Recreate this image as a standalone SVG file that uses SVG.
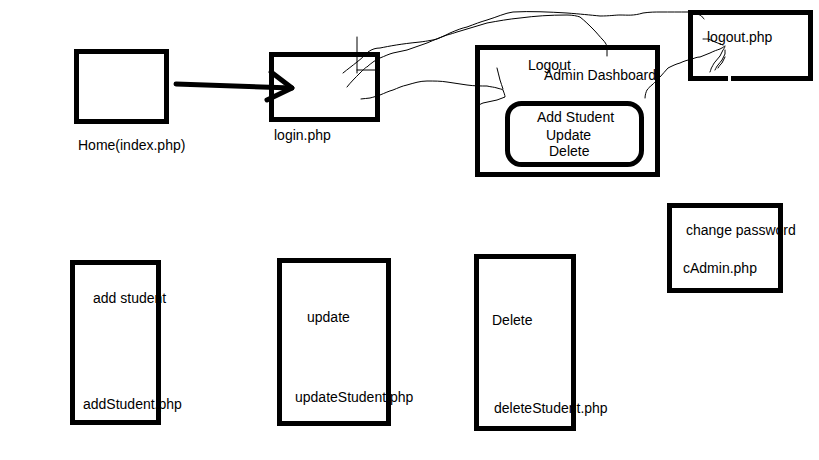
<svg xmlns="http://www.w3.org/2000/svg" width="819" height="460" viewBox="0 0 819 460">
<style>
.box{fill:none;stroke:#000;stroke-width:5}
.t{font-family:"Liberation Sans",Arial,sans-serif;font-size:14px;fill:#000}
.thin{fill:none;stroke:#000;stroke-width:1;stroke-linejoin:round;stroke-linecap:round}
.thick{fill:none;stroke:#000;stroke-width:5;stroke-linecap:round;stroke-linejoin:round}
</style>
<rect width="819" height="460" fill="#fff"/>
<g id="connectors">
<g id="home-to-login">
<path class="thick" d="M176,84 L292,88"/>
<path class="thick" d="M271,72 L292,88 L267,100"/>
</g>
<g id="login-to-logout">
<path class="thin" d="M343,73 C348,69 352,66 357,62 C361,59 365,55 368,52 C372,49 376,48 380,48 C390,46 400,44 420,42 C428,41 433,40 437,39 C442,37 446,35 450,33 C457,30 462,28 467,27 C475,24 480,22 487,20 C497,17 505,13 513,12 C530,11 550,12 567,13 C580,14 590,15 600,16 C610,16 615,15 620,15 C628,15 633,16 643,13 C650,12 655,12 660,12 C670,12 680,12 688,12 C693,13 697,14 700,15 C702,16 703,18 704,19"/>
</g>
<g id="login-to-admin-logout">
<path class="thin" d="M347,87 C350,83 356,77 360,73 C363,70 366,67 367,67 C370,64 372,63 373,62 C376,60 378,59 380,58 C385,56 389,54 393,53 C398,52 402,51 407,50 C414,48 420,45 427,43 C434,40 441,37 447,35 C451,34 454,33 457,32 C467,29 477,26 487,23 C498,21 509,19 520,18 C535,16 550,15 567,15 C573,15 577,16 580,17 C585,21 589,25 593,29 C597,33 600,37 603,40 C605,42 606,44 607,46"/>
<path class="thin" d="M607,50 L607,56"/>
</g>
<g id="login-to-admin">
<path class="thin" d="M361,99 C364,99 367,98 370,98 C374,97 377,96 380,95 C385,93 389,91 393,90 C398,88 402,86 407,85 C414,83 420,81 427,81 C434,81 441,81 447,82 C454,83 460,84 467,85 C474,86 481,86 487,86 C491,87 494,87 497,88 C500,89 502,89 503,90 C504,93 505,95 505,97 C502,98 500,99 497,100 C492,101 488,102 483,103 C480,104 478,106 477,107"/>
<path class="thin" d="M497,68 C498,72 499,76 500,80 C501,83 502,86 503,89"/>
</g>
<g id="login-ticks">
<path class="thin" d="M357,37 L357,73"/>
<path class="thin" d="M357,70 L377,70"/>
<path class="thin" d="M379,63 L379,80"/>
</g>
<g id="admin-to-logout">
<path class="thin" d="M645,98 C645,95 646,92 647,90 C649,88 650,86 652,85 C654,83 654,83 655,82 C657,80 658,79 660,77 C663,74 665,71 668,68 C672,66 676,64 680,63 C684,61 688,60 692,59 C695,58 697,57 700,57 C703,56 707,54 710,53 C714,51 717,50 720,49 C722,48 724,47 725,46"/>
<path class="thin" d="M703,39 C705,39 706,39 708,39 C711,40 713,41 715,42 C718,43 720,44 723,45"/>
<path class="thin" d="M710,72 C711,70 711,68 712,67 C713,65 714,63 715,62 C717,60 718,58 720,56 C721,54 722,52 723,50 C724,49 724,48 725,47"/>
<path class="thin" d="M715,70 C716,68 717,66 718,65 C719,63 721,62 722,60 C723,58 724,56 725,54 C725,53 725,51 725,50"/>
<path class="thin" d="M718,68 C719,66 721,64 722,63 C723,61 724,59 725,57"/>
</g>
</g>
<g id="home">
<text class="t" x="78" y="150">Home(index.php)</text>
<rect class="box" x="76.5" y="51.5" width="90" height="70"/>
</g>
<g id="login">
<text class="t" x="274" y="140">login.php</text>
<rect class="box" x="271.5" y="54.5" width="106" height="65"/>
</g>
<g id="admin">
<text class="t" x="528" y="70">Logout</text>
<text class="t" x="544" y="80">Admin Dashboard</text>
<rect class="box" x="477.5" y="47.5" width="180" height="127"/>
<g id="admin-menu">
<text class="t" x="537" y="122">Add Student</text>
<text class="t" x="546" y="140">Update</text>
<text class="t" x="549" y="156">Delete</text>
<rect class="box" x="507.5" y="103.5" width="134" height="61" rx="14" ry="14"/>
</g>
</g>
<g id="logout">
<text class="t" x="707" y="42">logout.php</text>
<rect class="box" x="690.5" y="12.5" width="120" height="66"/>
<line x1="729.5" y1="75" x2="729.5" y2="82" stroke="#fff" stroke-width="3"/>
</g>
<g id="cadmin">
<text class="t" x="686" y="235">change password</text>
<text class="t" x="683" y="273">cAdmin.php</text>
<rect class="box" x="669.5" y="205.5" width="111" height="85"/>
</g>
<g id="addStudent">
<text class="t" x="93" y="303">add student</text>
<text class="t" x="83" y="409">addStudent.php</text>
<rect class="box" x="72.5" y="262.5" width="86" height="160"/>
</g>
<g id="updateStudent">
<text class="t" x="307" y="322">update</text>
<text class="t" x="295" y="402">updateStudent.php</text>
<rect class="box" x="279.5" y="260.5" width="109" height="163"/>
</g>
<g id="deleteStudent">
<text class="t" x="492" y="325">Delete</text>
<text class="t" x="494" y="413">deleteStudent.php</text>
<rect class="box" x="476.5" y="256.5" width="97" height="172"/>
</g>
</svg>
